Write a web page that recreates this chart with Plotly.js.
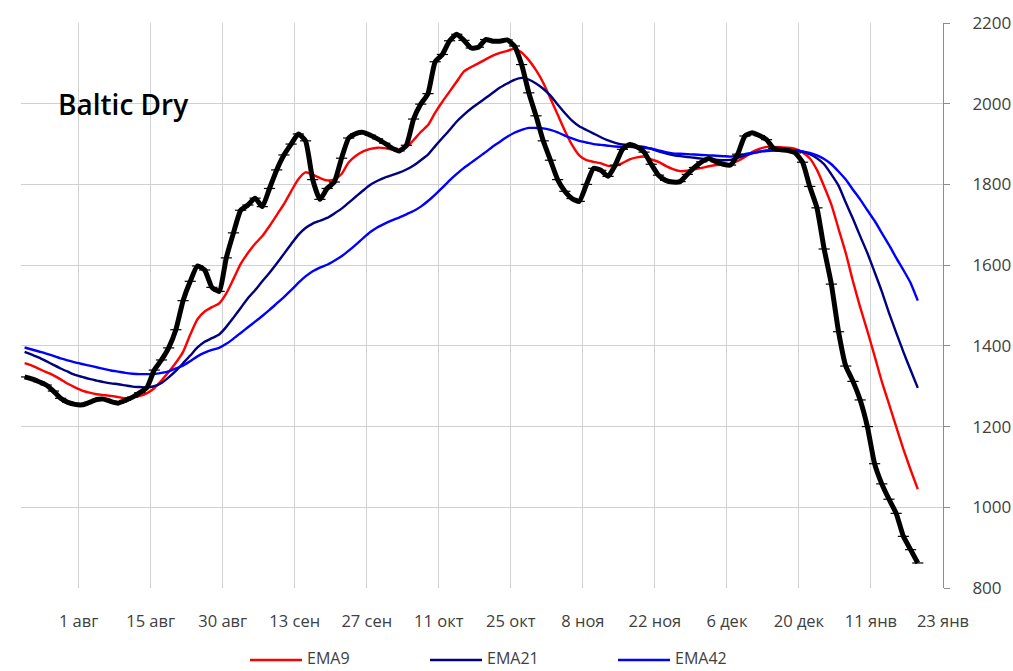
<!DOCTYPE html>
<html>
<head>
<meta charset="utf-8">
<script src="https://cdn.plot.ly/plotly-3.0.1.min.js"></script>
<style>html,body{margin:0;padding:0;background:#fff;overflow:hidden;}#chart{width:1013px;height:671px;}</style>
</head>
<body>
<div id="chart"></div>
<script>
// Trading-day index (0..124) for each observation
const dayIndex = Array.from({length: 125}, (_, i) => i);

// Category tick labels (placed at the boundaries every 10 trading days)
const tickPositions = [-0.5, 7.5, 17.5, 27.5, 37.5, 47.5, 57.5, 67.5, 77.5, 87.5, 97.5, 107.5, 117.5, 127.5];
const tickLabels = ["", "1 авг", "15 авг", "30 авг", "13 сен", "27 сен", "11 окт", "25 окт", "8 ноя", "22 ноя", "6 дек", "20 дек", "11 янв", "23 янв"];

// Baltic Dry Index
const bdi = [
 1323,1318,1311,1303,1288,1270,1260,1255,1254,1260,
 1267,1268,1262,1258,1265,1273,1284,1297,1340,1365,
 1395,1440,1512,1560,1598,1588,1545,1535,1618,1680,
 1736,1749,1766,1745,1790,1836,1873,1900,1925,1908,
 1812,1763,1790,1806,1865,1915,1926,1929,1922,1913,
 1902,1890,1883,1897,1962,1999,2025,2104,2122,2156,
 2172,2157,2138,2140,2159,2155,2155,2158,2143,2097,
 2027,1970,1908,1860,1812,1783,1765,1758,1800,1840,
 1835,1820,1848,1887,1899,1893,1880,1850,1823,1810,
 1806,1807,1825,1842,1856,1864,1856,1850,1848,1875,
 1920,1928,1921,1911,1889,1886,1884,1878,1855,1795,
 1742,1640,1553,1435,1350,1312,1266,1200,1108,1058,
 1020,985,928,895,862
];

const ema9 = [
 1357,1351,1343,1335,1327,1317,1306,1297,1289,1284,
 1280,1278,1276,1273,1270,1272,1276,1283,1295,1314,
 1335,1358,1385,1428,1466,1485,1496,1505,1530,1566,
 1603,1630,1653,1672,1697,1724,1751,1783,1813,1830,
 1824,1816,1810,1812,1826,1855,1871,1882,1888,1891,
 1890,1887,1886,1892,1910,1930,1947,1978,2005,2030,
 2055,2080,2091,2100,2110,2119,2126,2131,2136,2127,
 2108,2083,2052,2013,1973,1933,1898,1872,1860,1856,
 1852,1846,1846,1853,1862,1867,1869,1862,1856,1846,
 1838,1833,1834,1838,1841,1845,1848,1849,1851,1858,
 1868,1880,1888,1893,1893,1892,1891,1888,1879,1865,
 1836,1795,1750,1690,1630,1560,1496,1437,1375,1312,
 1256,1200,1144,1093,1045
];

const ema21 = [
 1385,1378,1371,1362,1353,1344,1336,1328,1323,1318,
 1314,1310,1307,1305,1302,1299,1298,1297,1300,1308,
 1322,1338,1357,1376,1396,1410,1419,1428,1447,1470,
 1494,1518,1538,1560,1581,1604,1628,1652,1675,1692,
 1703,1710,1717,1728,1740,1755,1770,1785,1799,1809,
 1817,1823,1829,1837,1847,1860,1874,1895,1915,1935,
 1956,1973,1988,2001,2014,2027,2040,2050,2059,2064,
 2060,2050,2037,2020,1998,1977,1958,1944,1935,1926,
 1917,1909,1903,1899,1897,1895,1893,1888,1882,1877,
 1873,1870,1868,1866,1864,1862,1861,1860,1861,1866,
 1872,1877,1881,1884,1885,1885,1885,1884,1881,1875,
 1865,1850,1825,1797,1755,1715,1672,1630,1583,1535,
 1482,1433,1385,1340,1296
];

const ema42 = [
 1396,1391,1386,1381,1375,1369,1364,1359,1355,1351,
 1347,1343,1339,1336,1333,1331,1330,1330,1330,1333,
 1337,1344,1351,1362,1374,1383,1390,1395,1405,1418,
 1432,1446,1460,1474,1489,1505,1521,1538,1556,1572,
 1585,1594,1601,1611,1622,1636,1651,1667,1682,1694,
 1703,1711,1718,1726,1734,1745,1759,1775,1792,1810,
 1826,1841,1854,1867,1880,1894,1906,1918,1928,1935,
 1940,1940,1939,1935,1929,1921,1914,1908,1904,1900,
 1898,1896,1894,1893,1893,1892,1891,1889,1884,1880,
 1877,1876,1875,1874,1873,1872,1871,1870,1869,1871,
 1875,1878,1881,1883,1884,1884,1884,1884,1882,1878,
 1872,1863,1850,1832,1812,1787,1763,1736,1710,1680,
 1650,1618,1588,1556,1512
];

// Legend entries (names and colours of the moving averages)
const legendNames = ['EMA9', 'EMA21', 'EMA42'];
const legendColors = ['#ff0000', '#000080', '#0000ff'];

const FONT = '"Open Sans", "Liberation Sans", sans-serif';

const traces = [
  {x: dayIndex, y: ema9, name: legendNames[0], type: 'scatter', mode: 'lines', showlegend: false,
   line: {color: legendColors[0], width: 2.4, shape: 'spline', smoothing: 0.6}},
  {x: dayIndex, y: ema21, name: legendNames[1], type: 'scatter', mode: 'lines', showlegend: false,
   line: {color: legendColors[1], width: 2.4, shape: 'spline', smoothing: 0.6}},
  {x: dayIndex, y: ema42, name: legendNames[2], type: 'scatter', mode: 'lines', showlegend: false,
   line: {color: legendColors[2], width: 2.4, shape: 'spline', smoothing: 0.6}},
  {x: dayIndex, y: bdi, name: 'Baltic Dry', type: 'scatter', mode: 'lines+markers', showlegend: false,
   line: {color: '#000000', width: 5, shape: 'spline', smoothing: 0.5},
   marker: {symbol: 'line-ew', size: 8, color: '#000000', line: {color: '#000000', width: 1.2}}}
];

// Manual legend below the plot (paper coordinates)
const W = 922, H = 565, L = 21, B = 588;
const px = v => (v - L) / W;
const py = v => (B - v) / H;
const legendLineStart = [250, 430, 618];
const shapes = [];
const annotations = [
  {text: 'Baltic Dry', xref: 'paper', yref: 'paper', x: px(56), y: py(104), xanchor: 'left', yanchor: 'middle',
   showarrow: false, font: {family: FONT, size: 28, color: '#000000', weight: 600}}
];
legendNames.forEach((name, k) => {
  shapes.push({type: 'line', xref: 'paper', yref: 'paper', x0: px(legendLineStart[k]), x1: px(legendLineStart[k] + 52),
               y0: py(660), y1: py(660), line: {color: legendColors[k], width: 2.4}});
  annotations.push({text: name, xref: 'paper', yref: 'paper', x: px(legendLineStart[k] + 56), y: py(670),
                    xanchor: 'left', yanchor: 'bottom', showarrow: false, borderpad: 0,
                    font: {family: FONT, size: 16, color: '#404040'}});
});

const layout = {
  width: 1013, height: 671,
  margin: {l: 21, r: 70, t: 23, b: 83, pad: 0},
  paper_bgcolor: '#ffffff', plot_bgcolor: '#ffffff',
  font: {family: FONT, size: 17, color: '#404040'},
  showlegend: false,
  xaxis: {range: [-0.5, 127.5], tickmode: 'array', tickvals: tickPositions, ticktext: tickLabels,
          showgrid: true, gridcolor: '#d0d0d0', gridwidth: 1, zeroline: false, showline: false,
          ticks: '', ticklabelstandoff: 21, tickfont: {family: FONT, size: 16.5, color: '#404040'},
          automargin: false, fixedrange: true},
  yaxis: {range: [800, 2200], dtick: 200, tick0: 800, side: 'right', showgrid: true,
          gridcolor: '#d0d0d0', gridwidth: 1, zeroline: false, showline: true, linecolor: '#8c8c8c',
          linewidth: 1, ticks: 'outside', ticklen: 6, tickcolor: '#8c8c8c', ticklabelstandoff: 19,
          tickfont: {family: FONT, size: 17, color: '#404040'}, automargin: false, fixedrange: true},
  yaxis2: {range: [800, 2200], dtick: 200, tick0: 800, overlaying: 'y', anchor: 'x', side: 'right',
           showgrid: false, zeroline: false, showline: false, ticks: 'inside', ticklen: 6,
           tickcolor: '#8c8c8c', showticklabels: false, fixedrange: true},
  shapes: shapes,
  annotations: annotations,
  hovermode: false
};

Plotly.newPlot('chart', traces, layout, {displayModeBar: false, staticPlot: true});
</script>
</body>
</html>
